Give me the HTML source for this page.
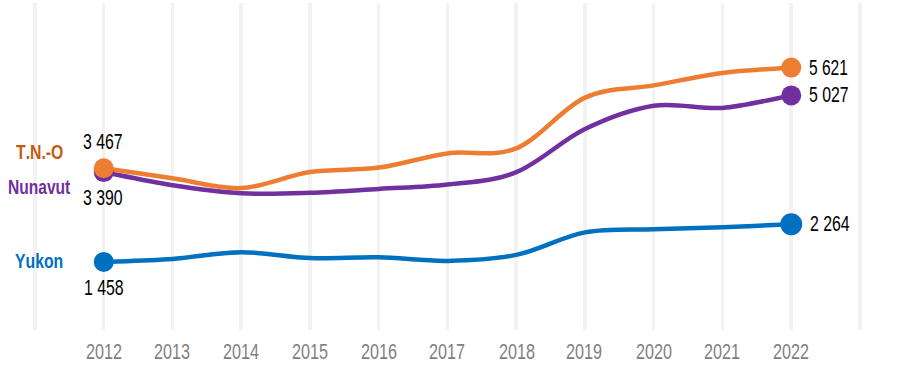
<!DOCTYPE html>
<html><head><meta charset="utf-8"><style>
html,body{margin:0;padding:0;background:#fff;width:902px;height:383px;overflow:hidden;position:relative;font-family:"Liberation Sans",sans-serif;}
svg{position:absolute;left:0;top:0;}
.t{position:absolute;white-space:nowrap;line-height:30px;transform-origin:0 0;font-kerning:none;}
.b{font-weight:bold;}
</style></head><body>
<svg width="902" height="383" viewBox="0 0 902 383">
<rect x="33" y="3" width="4" height="327" fill="#f2f2f2" shape-rendering="crispEdges"/><rect x="102" y="3" width="3" height="327" fill="#f2f2f2" shape-rendering="crispEdges"/><rect x="171" y="3" width="3" height="327" fill="#f2f2f2" shape-rendering="crispEdges"/><rect x="239" y="3" width="4" height="327" fill="#f2f2f2" shape-rendering="crispEdges"/><rect x="308" y="3" width="4" height="327" fill="#f2f2f2" shape-rendering="crispEdges"/><rect x="377" y="3" width="3" height="327" fill="#f2f2f2" shape-rendering="crispEdges"/><rect x="446" y="3" width="3" height="327" fill="#f2f2f2" shape-rendering="crispEdges"/><rect x="514" y="3" width="4" height="327" fill="#f2f2f2" shape-rendering="crispEdges"/><rect x="583" y="3" width="4" height="327" fill="#f2f2f2" shape-rendering="crispEdges"/><rect x="652" y="3" width="3" height="327" fill="#f2f2f2" shape-rendering="crispEdges"/><rect x="721" y="3" width="3" height="327" fill="#f2f2f2" shape-rendering="crispEdges"/><rect x="789" y="3" width="4" height="327" fill="#f2f2f2" shape-rendering="crispEdges"/><rect x="858" y="3" width="4" height="327" fill="#f2f2f2" shape-rendering="crispEdges"/>
<path d="M103.75,261.90 C115.21,261.40 149.58,260.52 172.50,258.90 C195.42,257.28 218.33,252.33 241.25,252.20 C264.17,252.07 287.08,257.24 310.00,258.10 C332.92,258.96 355.83,256.88 378.75,257.35 C401.67,257.82 424.58,261.31 447.50,260.90 C470.42,260.49 493.33,259.66 516.25,254.90 C539.17,250.14 562.08,236.63 585.00,232.35 C607.92,228.07 630.83,230.05 653.75,229.20 C676.67,228.35 699.58,228.08 722.50,227.25 C745.42,226.42 779.79,224.71 791.25,224.20" fill="none" stroke="#0070C0" stroke-width="4.5" stroke-linecap="round"/>
<path d="M103.75,172.10 C115.21,174.28 149.58,181.68 172.50,185.20 C195.42,188.72 218.33,191.93 241.25,193.20 C264.17,194.47 287.08,193.52 310.00,192.80 C332.92,192.08 355.83,190.27 378.75,188.90 C401.67,187.53 424.58,187.38 447.50,184.60 C470.42,181.82 493.33,181.47 516.25,172.20 C539.17,162.93 562.08,140.08 585.00,129.00 C607.92,117.92 630.83,109.22 653.75,105.70 C676.67,102.18 699.58,109.62 722.50,107.90 C745.42,106.18 779.79,97.48 791.25,95.40" fill="none" stroke="#7030A0" stroke-width="4.5" stroke-linecap="round"/>
<path d="M103.75,168.20 C115.21,169.88 149.58,174.98 172.50,178.30 C195.42,181.62 218.33,189.13 241.25,188.10 C264.17,187.07 287.08,175.52 310.00,172.10 C332.92,168.68 355.83,170.72 378.75,167.60 C401.67,164.48 424.58,156.60 447.50,153.40 C470.42,150.20 493.33,157.70 516.25,148.40 C539.17,139.10 562.08,108.10 585.00,97.60 C607.92,87.10 630.83,89.50 653.75,85.40 C676.67,81.30 699.58,75.97 722.50,73.00 C745.42,70.03 779.79,68.50 791.25,67.60" fill="none" stroke="#ED7D31" stroke-width="4.5" stroke-linecap="round"/>
<circle cx="103.75" cy="261.9" r="10" fill="#0070C0"/>
<circle cx="791.25" cy="224.2" r="11" fill="#0070C0"/>
<circle cx="103.75" cy="172.1" r="10" fill="#7030A0"/>
<circle cx="791.25" cy="95.4" r="10" fill="#7030A0"/>
<circle cx="103.75" cy="168.2" r="10" fill="#ED7D31"/>
<circle cx="791.25" cy="67.6" r="10" fill="#ED7D31"/>
</svg>
<div class="t" style="left:85.60px;top:337.00px;font-size:22px;color:#7f7f7f;transform:scale(0.7350,1.0000)">2012</div><div class="t" style="left:154.00px;top:337.00px;font-size:22px;color:#7f7f7f;transform:scale(0.7350,1.0000)">2013</div><div class="t" style="left:223.00px;top:337.00px;font-size:22px;color:#7f7f7f;transform:scale(0.7350,1.0000)">2014</div><div class="t" style="left:292.00px;top:337.00px;font-size:22px;color:#7f7f7f;transform:scale(0.7350,1.0000)">2015</div><div class="t" style="left:360.50px;top:337.00px;font-size:22px;color:#7f7f7f;transform:scale(0.7350,1.0000)">2016</div><div class="t" style="left:429.00px;top:337.00px;font-size:22px;color:#7f7f7f;transform:scale(0.7350,1.0000)">2017</div><div class="t" style="left:498.50px;top:337.00px;font-size:22px;color:#7f7f7f;transform:scale(0.7350,1.0000)">2018</div><div class="t" style="left:566.30px;top:337.00px;font-size:22px;color:#7f7f7f;transform:scale(0.7350,1.0000)">2019</div><div class="t" style="left:635.50px;top:337.00px;font-size:22px;color:#7f7f7f;transform:scale(0.7350,1.0000)">2020</div><div class="t" style="left:704.00px;top:337.00px;font-size:22px;color:#7f7f7f;transform:scale(0.7350,1.0000)">2021</div><div class="t" style="left:772.60px;top:337.00px;font-size:22px;color:#7f7f7f;transform:scale(0.7350,1.0000)">2022</div><div class="t b" style="left:15.70px;top:137.00px;font-size:20px;color:#C55A11;transform:scale(0.7900,1.0000)">T.N.-O</div><div class="t b" style="left:7.90px;top:172.00px;font-size:20px;color:#7030A0;transform:scale(0.7780,1.0000)">Nunavut</div><div class="t b" style="left:15.30px;top:246.30px;font-size:20px;color:#0070C0;transform:scale(0.7880,1.0000)">Yukon</div><div class="t" style="left:83.00px;top:127.00px;font-size:22px;color:#000;transform:scale(0.7200,1.0000)">3 467</div><div class="t" style="left:83.35px;top:183.00px;font-size:22px;color:#000;transform:scale(0.7200,1.0000)">3 390</div><div class="t" style="left:83.60px;top:273.00px;font-size:22px;color:#000;transform:scale(0.7200,1.0000)">1 458</div><div class="t" style="left:808.70px;top:53.00px;font-size:22px;color:#000;transform:scale(0.7050,1.0000)">5 621</div><div class="t" style="left:809.10px;top:80.00px;font-size:22px;color:#000;transform:scale(0.7200,1.0000)">5 027</div><div class="t" style="left:810.10px;top:209.00px;font-size:22px;color:#000;transform:scale(0.7200,1.0000)">2 264</div>
</body></html>
